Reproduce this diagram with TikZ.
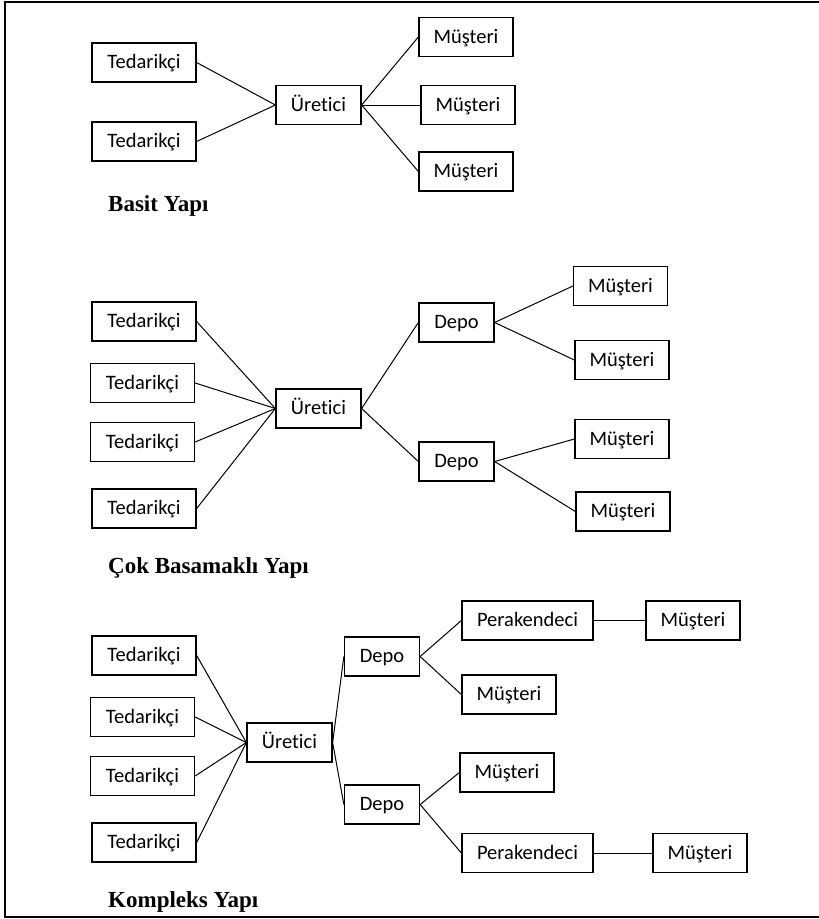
\documentclass[tikz,border=0pt]{standalone}
\usepackage{fontspec}
\setmainfont{Carlito}[Ligatures=NoCommon]
\newfontfamily\titlefont{Liberation Serif}
\begin{document}
\begin{tikzpicture}[x=1pt,y=-1pt,
  box/.style={draw, line width=1.3pt, minimum height=39pt, inner sep=0pt,
    text height=12pt, text depth=0pt,
    font=\fontsize{20.5}{23}\selectfont},
  tedbox/.style={box, minimum width=104pt},
  uretbox/.style={box, minimum width=85pt},
  musbox/.style={box, minimum width=94pt},
  depobox/.style={box, minimum width=75pt},
  perbox/.style={box, minimum width=131pt},
  link/.style={line width=1pt},
  heading/.style={font=\titlefont\bfseries\fontsize{23}{26}\selectfont,
    anchor=base west, inner sep=0pt}]
\useasboundingbox (0,0) rectangle (819,919);
% outer frame (open on the right)
\draw[line width=2pt] (819,2) -- (5,2) -- (5,917) -- (819,917);

% --- simple structure ---
\node[tedbox]  (t11) at (144,62.5)  {Tedarikçi};
\node[tedbox]  (t12) at (144,141.5) {Tedarikçi};
\node[uretbox] (u1)  at (318.5,105) {Üretici};
\node[musbox]  (m11) at (466,37)    {Müşteri};
\node[musbox]  (m12) at (468,105)   {Müşteri};
\node[musbox]  (m13) at (466,171.5) {Müşteri};
\node[heading] (h1)  at (108,211)   {Basit Yapı};
\foreach \s in {t11,t12} \draw[link] (\s.east) -- (u1.west);
\foreach \c in {m11,m12,m13} \draw[link] (u1.east) -- (\c.west);

% --- multi-echelon structure ---
\node[tedbox]  (t21) at (144,321.5)   {Tedarikçi};
\node[tedbox]  (t22) at (142.5,383)   {Tedarikçi};
\node[tedbox]  (t23) at (142.5,442)   {Tedarikçi};
\node[tedbox]  (t24) at (144,508.5)   {Tedarikçi};
\node[uretbox] (u2)  at (318.5,408.5) {Üretici};
\node[depobox] (d21) at (456.5,322.5) {Depo};
\node[depobox] (d22) at (456.5,461.5) {Depo};
\node[musbox]  (m21) at (620.5,286)   {Müşteri};
\node[musbox]  (m22) at (622,360)     {Müşteri};
\node[musbox]  (m23) at (622,439)     {Müşteri};
\node[musbox]  (m24) at (623,511.5)   {Müşteri};
\node[heading] (h2)  at (108,573)     {Çok Basamaklı Yapı};
\foreach \s in {t21,t22,t23,t24} \draw[link] (\s.east) -- (u2.west);
\foreach \d in {d21,d22} \draw[link] (u2.east) -- (\d.west);
\draw[link] (d21.east) -- (m21.west);
\draw[link] (d21.east) -- (m22.west);
\draw[link] (d22.east) -- (m23.west);
\draw[link] (d22.east) -- (m24.west);

% --- complex structure ---
\node[tedbox]  (t31) at (144,655.5)   {Tedarikçi};
\node[tedbox]  (t32) at (142.5,717)   {Tedarikçi};
\node[tedbox]  (t33) at (142.5,776)   {Tedarikçi};
\node[tedbox]  (t34) at (144,842.5)   {Tedarikçi};
\node[uretbox] (u3)  at (289.5,742.5) {Üretici};
\node[depobox] (d31) at (382,656.5)   {Depo};
\node[depobox] (d32) at (382,804.5)   {Depo};
\node[perbox]  (p31) at (527.5,620.5) {Perakendeci};
\node[musbox]  (m31) at (693,620.5)   {Müşteri};
\node[musbox]  (m32) at (509,694.5)   {Müşteri};
\node[musbox]  (m33) at (507,772.5)   {Müşteri};
\node[perbox]  (p32) at (527.5,853)   {Perakendeci};
\node[musbox]  (m34) at (700,853)     {Müşteri};
\node[heading] (h3)  at (108,907)     {Kompleks Yapı};
\foreach \s in {t31,t32,t33,t34} \draw[link] (\s.east) -- (u3.west);
\foreach \d in {d31,d32} \draw[link] (u3.east) -- (\d.west);
\draw[link] (d31.east) -- (p31.west);
\draw[link] (d31.east) -- (m32.west);
\draw[link] (d32.east) -- (m33.west);
\draw[link] (d32.east) -- (p32.west);
\draw[link] (p31.east) -- (m31.west);
\draw[link] (p32.east) -- (m34.west);
\end{tikzpicture}
\end{document}
